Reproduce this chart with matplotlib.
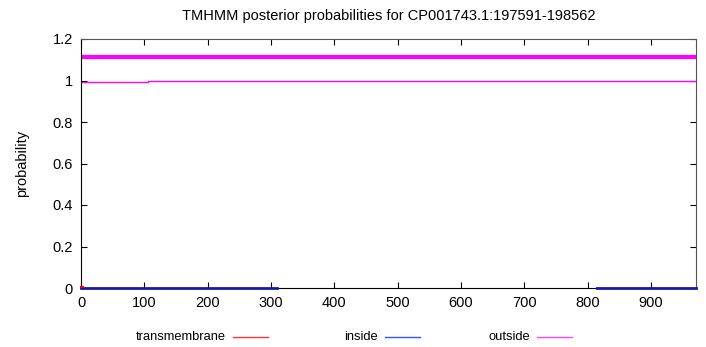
import matplotlib.pyplot as plt
from matplotlib.lines import Line2D

title = "TMHMM posterior probabilities for CP001743.1:197591-198562"
seq_len = 971

# posterior probabilities (step points)
inside_x = [0, 310]
inside_y = [0.0, 0.0]
inside2_x = [815, 971]
inside2_y = [0.0, 0.0]
outside_x = [0, 106, 106, 971]
outside_y = [0.995, 0.995, 1.0, 1.0]
tm_x = [0, 3]
tm_y = [0.005, 0.005]
# predicted topology bar
topo_x = [0, 971]
topo_y = [1.115, 1.115]

xticks = [0, 100, 200, 300, 400, 500, 600, 700, 800, 900]
yticks = [0, 0.2, 0.4, 0.6, 0.8, 1.0, 1.2]
yticklabels = ["0", "0.2", "0.4", "0.6", "0.8", "1", "1.2"]

plt.rcParams['font.family'] = ['Liberation Sans', 'DejaVu Sans']
fig = plt.figure(figsize=(7.06, 3.47), dpi=100)
ax = fig.add_axes([81/706, 1-288/347, 615/706, 249/347])

ax.plot(outside_x, outside_y, color='#ff00ff', lw=1.0)
ax.plot(topo_x, topo_y, color='#ff00ff', lw=3.0)
ax.plot(inside_x, inside_y, color='#1a1aa0', lw=2.0, clip_on=False, zorder=5)
ax.plot(inside2_x, inside2_y, color='#1a1aa0', lw=2.0, clip_on=False, zorder=5)
ax.plot(tm_x, tm_y, color='#ff0000', lw=1.5, clip_on=False, zorder=6)

ax.set_xlim(0, seq_len)
ax.set_ylim(0, 1.2)
ax.set_xticks(xticks)
ax.set_yticks(yticks)
ax.set_yticklabels(yticklabels)
ax.tick_params(direction='in', top=True, right=True, length=4, labelsize=10.5, pad=6)
for s in ['top', 'right']:
    ax.spines[s].set_color('#555555')
ax.set_ylabel("probability", fontsize=10.5, labelpad=17)
ax.set_title(title, fontsize=10.5, pad=14)

# legend below plot
leg = [("transmembrane", 233, 268, '#ff3333'),
       ("inside", 385, 420, '#3355ff'),
       ("outside", 537, 572, '#ff44ff')]
ly = 1 - 337/347
for name, x0, x1, c in leg:
    fig.text((x0 - 7)/706, ly, name, fontsize=9.3, va='center', ha='right')
    fig.add_artist(Line2D([x0/706, x1/706], [ly, ly], color=c, lw=1.0,
                          transform=fig.transFigure))

fig.savefig("out.png", dpi=100)
